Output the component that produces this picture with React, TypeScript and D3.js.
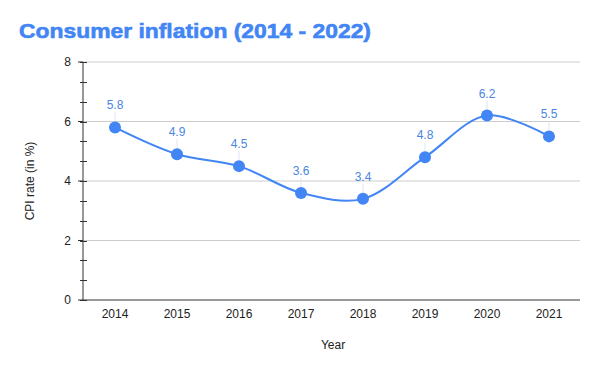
import React, { useEffect, useRef } from "react";
import * as d3 from "d3";

const years: string[] = ["2014", "2015", "2016", "2017", "2018", "2019", "2020", "2021"];
const cpiValues: number[] = [5.8, 4.9, 4.5, 3.6, 3.4, 4.8, 6.2, 5.5];
const yTicks: number[] = [0, 2, 4, 6, 8];

const App: React.FC = () => {
  const svgRef = useRef<SVGSVGElement>(null);

  useEffect(() => {
    if (!svgRef.current) return;
    const width = 600;
    const height = 371;
    const margin = { top: 62, right: 20, bottom: 71, left: 83 };
    const blue = "#4285F4";
    const font = "Liberation Sans, Arial, sans-serif";

    const svg = d3.select(svgRef.current);
    svg.selectAll("*").remove();
    svg.attr("width", width).attr("height", height);

    svg.append("rect").attr("width", width).attr("height", height).attr("fill", "#fff");

    const xScale = d3
      .scaleBand<string>()
      .domain(years)
      .range([margin.left + 1, width - margin.right]);

    const yScale = d3
      .scaleLinear()
      .domain([0, 8])
      .range([height - margin.bottom, margin.top]);

    // gridlines
    svg
      .selectAll(".grid")
      .data(yTicks.filter((t) => t > 0))
      .enter()
      .append("line")
      .attr("x1", margin.left)
      .attr("x2", width - margin.right)
      .attr("y1", (d) => yScale(d))
      .attr("y2", (d) => yScale(d))
      .attr("stroke", "#cccccc")
      .attr("stroke-width", 1);

    // minor ticks
    const minor = d3.range(0, 8.001, 2 / 3);
    svg
      .selectAll(".minor")
      .data(minor)
      .enter()
      .append("line")
      .attr("x1", margin.left - 3)
      .attr("x2", margin.left + 4)
      .attr("y1", (d) => Math.round(yScale(d)) + 0.5)
      .attr("y2", (d) => Math.round(yScale(d)) + 0.5)
      .attr("stroke", "#333")
      .attr("stroke-width", 1);

    // major ticks
    svg
      .selectAll(".major")
      .data(yTicks)
      .enter()
      .append("line")
      .attr("x1", margin.left - 5)
      .attr("x2", margin.left)
      .attr("y1", (d) => yScale(d))
      .attr("y2", (d) => yScale(d))
      .attr("stroke", "#333")
      .attr("stroke-width", 1);

    svg
      .selectAll(".ylab")
      .data(yTicks)
      .enter()
      .append("text")
      .attr("x", margin.left - 12)
      .attr("y", (d) => yScale(d) + 4)
      .attr("text-anchor", "end")
      .attr("font-family", font)
      .attr("font-size", 12)
      .attr("fill", "#222")
      .text((d) => d);

    // axes lines
    svg
      .append("line")
      .attr("x1", margin.left)
      .attr("x2", margin.left)
      .attr("y1", yScale(8))
      .attr("y2", yScale(0))
      .attr("stroke", "#333");
    svg
      .append("line")
      .attr("x1", margin.left)
      .attr("x2", width - margin.right)
      .attr("y1", yScale(0))
      .attr("y2", yScale(0))
      .attr("stroke", "#333");

    // x labels
    svg
      .selectAll(".xlab")
      .data(years)
      .enter()
      .append("text")
      .attr("x", (d) => (xScale(d) as number) + xScale.bandwidth() / 2)
      .attr("y", yScale(0) + 18)
      .attr("text-anchor", "middle")
      .attr("font-family", font)
      .attr("font-size", 12)
      .attr("fill", "#222")
      .text((d) => d);

    // axis titles
    svg
      .append("text")
      .attr("x", 333)
      .attr("y", 349)
      .attr("text-anchor", "middle")
      .attr("font-family", font)
      .attr("font-size", 12)
      .attr("fill", "#222")
      .text("Year");
    svg
      .append("text")
      .attr("transform", `translate(34, ${yScale(4)}) rotate(-90)`)
      .attr("text-anchor", "middle")
      .attr("font-family", font)
      .attr("font-size", 12)
      .attr("fill", "#222")
      .text("CPI rate (in %)");

    // title
    svg
      .append("text")
      .attr("x", 19)
      .attr("y", 38)
      .attr("font-family", font)
      .attr("font-weight", "bold")
      .attr("font-size", 21)
      .attr("fill", blue)
      .attr("stroke", blue)
      .attr("stroke-width", 0.6)
      .attr("textLength", 352)
      .attr("lengthAdjust", "spacingAndGlyphs")
      .text("Consumer inflation (2014 - 2022)");

    const points = years.map((y, i) => ({
      x: (xScale(y) as number) + xScale.bandwidth() / 2,
      y: yScale(cpiValues[i]),
      v: cpiValues[i],
    }));

    const line = d3
      .line<{ x: number; y: number }>()
      .x((d) => d.x)
      .y((d) => d.y)
      .curve(d3.curveCatmullRom.alpha(0.5));

    svg
      .append("path")
      .datum(points)
      .attr("d", line)
      .attr("fill", "none")
      .attr("stroke", blue)
      .attr("stroke-width", 2);

    // leader lines
    svg
      .selectAll(".leader")
      .data(points)
      .enter()
      .append("line")
      .attr("x1", (d) => d.x)
      .attr("x2", (d) => d.x)
      .attr("y1", (d) => d.y - 15)
      .attr("y2", (d) => d.y - 6)
      .attr("stroke", "#dde6f5")
      .attr("stroke-width", 1);

    svg
      .selectAll(".pt")
      .data(points)
      .enter()
      .append("circle")
      .attr("cx", (d) => d.x)
      .attr("cy", (d) => d.y)
      .attr("r", 6)
      .attr("fill", blue);

    svg
      .selectAll(".dlab")
      .data(points)
      .enter()
      .append("text")
      .attr("x", (d) => d.x)
      .attr("y", (d) => d.y - 18)
      .attr("text-anchor", "middle")
      .attr("font-family", font)
      .attr("font-size", 12)
      .attr("fill", "#4a86e0")
      .text((d) => d.v.toFixed(1));
  }, []);

  return <svg ref={svgRef} style={{ position: "absolute", left: 0, top: 0 }}></svg>;
};

export default App;
